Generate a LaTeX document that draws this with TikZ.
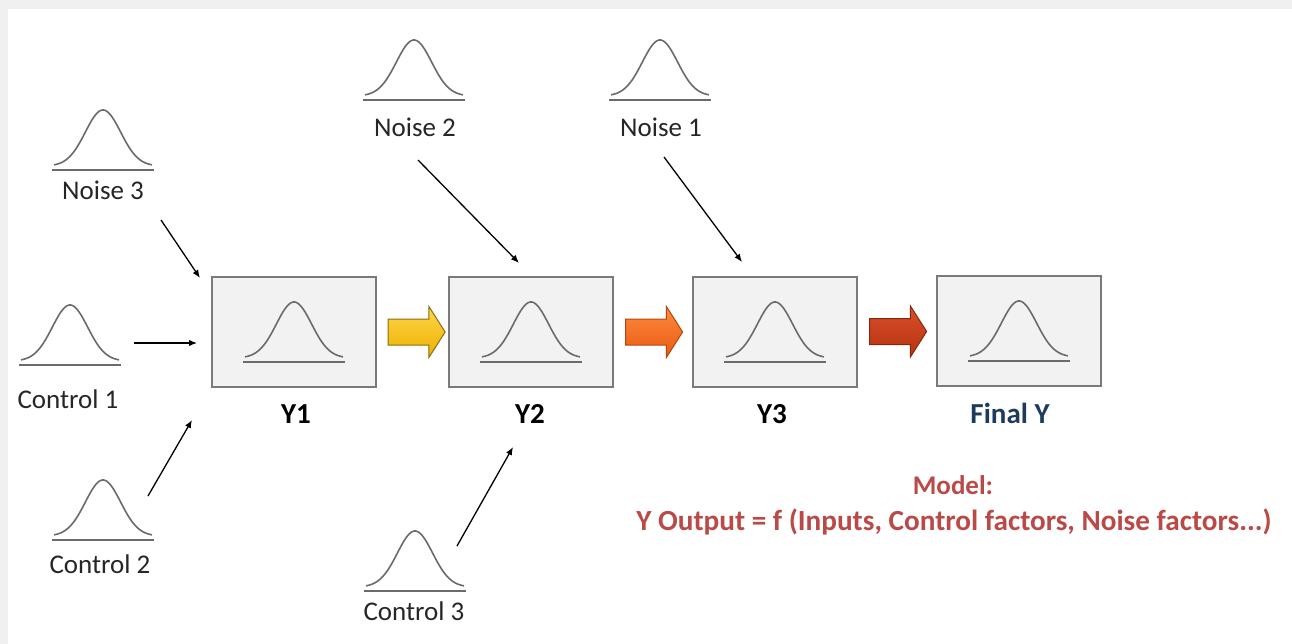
\documentclass[tikz,border=0pt]{standalone}
\usepackage{fontspec}
\setmainfont{Carlito}
\usetikzlibrary{shapes.arrows,calc,arrows.meta}
\definecolor{pagegray}{HTML}{F0F0F0}
\definecolor{boxfill}{HTML}{F2F2F2}
\definecolor{boxline}{HTML}{7A7A7A}
\definecolor{curvegray}{HTML}{6B6B6B}
\definecolor{labeltext}{HTML}{262626}
\definecolor{finalblue}{HTML}{1F3B5C}
\definecolor{modelred}{HTML}{B94A48}
\definecolor{goldtop}{HTML}{FFD54A}
\definecolor{goldbot}{HTML}{EDB200}
\definecolor{goldedge}{HTML}{8A6D12}
\definecolor{orangetop}{HTML}{FF8A3D}
\definecolor{orangebot}{HTML}{E85A12}
\definecolor{orangeedge}{HTML}{B4470F}
\definecolor{redtop}{HTML}{D9502A}
\definecolor{redbot}{HTML}{B8320F}
\definecolor{rededge}{HTML}{86280F}
\begin{document}
\begin{tikzpicture}[x=1pt,y=-1pt,
  stagebox/.style={draw=boxline, fill=boxfill, line width=1.5pt,
    minimum width=164pt, minimum height=110pt, inner sep=0pt},
  factor/.style={anchor=base, text=labeltext, inner sep=0pt,
    font=\fontsize{27}{32}\selectfont},
  stagelabel/.style={anchor=base, text=black, inner sep=0pt,
    font=\fontsize{29}{34}\selectfont\bfseries},
  feed/.style={draw=black, line width=1.3pt, -{Latex[length=8pt,width=6.5pt]}},
  flow/.style={single arrow, inner xsep=0pt, inner ysep=12.5pt,
    minimum height=57pt, single arrow head extend=12.5pt,
    single arrow tip angle=115, line width=1pt},
  bell/.pic={
    \draw[curvegray, line width=1.6pt, line join=round]
      plot[domain=-49:49, samples=70, smooth] (\x, {-4-56*exp(-(\x)*(\x)/620)});
    \draw[curvegray, line width=2.4pt] (-51,0) -- (51,0);
  }]
\useasboundingbox (0,0) rectangle (1292,644);
\fill[pagegray] (0,0) rectangle (1292,644);
\fill[white] (8,9) rectangle (1292,644);

% process stages
\node[stagebox] (y1) at (294,332) {};
\node[stagebox] (y2) at (531,332) {};
\node[stagebox] (y3) at (775,332) {};
\node[stagebox] (yf) at (1019,331) {};
\foreach \s in {y1,y2,y3,yf}
  \pic at ($(\s.center)+(0,30)$) {bell};

\node[stagelabel] (l1) at (296,423) {Y1};
\node[stagelabel] (l2) at (530,423) {Y2};
\node[stagelabel] (l3) at (772,423) {Y3};
\node[stagelabel, text=finalblue] (lf) at (1010,423) {Final Y};

% block arrows between stages
\node[flow, draw=goldedge, top color=goldtop, bottom color=goldbot]
  (a12) at ($(y1.east)!0.5!(y2.west)$) {};
\node[flow, draw=orangeedge, top color=orangetop, bottom color=orangebot]
  (a23) at ($(y2.east)!0.5!(y3.west)+(-3,0)$) {};
\node[flow, draw=rededge, top color=redtop, bottom color=redbot]
  (a3f) at ($(y3.east)!0.5!(yf.west)+(-3,0)$) {};

% input factor distributions
\pic at (103,170) {bell};
\pic at (70,365) {bell};
\pic at (103,540) {bell};
\pic at (414,100) {bell};
\pic at (660,100) {bell};
\pic at (415,591) {bell};

\node[factor] (n3) at (103,200) {Noise 3};
\node[factor] (c1) at (68,408) {Control 1};
\node[factor] (c2) at (100,573) {Control 2};
\node[factor] (n2) at (415,137) {Noise 2};
\node[factor] (n1) at (661,137) {Noise 1};
\node[factor] (c3) at (414,620) {Control 3};

% arrows from factors into stages
\coordinate (n3-tail) at (161,220);  \coordinate (n3-head) at (200,278);
\coordinate (c1-tail) at (134,343);  \coordinate (c1-head) at (197,343);
\coordinate (c2-tail) at (148,496);  \coordinate (c2-head) at (192,420);
\coordinate (n2-tail) at (418,160);  \coordinate (n2-head) at (519,263);
\coordinate (n1-tail) at (664,157);  \coordinate (n1-head) at (742,262);
\coordinate (c3-tail) at (457,546);  \coordinate (c3-head) at (513,447);
\foreach \f in {n3,c1,c2,n2,n1,c3}
  \draw[feed] (\f-tail) -- (\f-head);

% model statement
\node[anchor=base, inner sep=0pt, text=modelred, font=\fontsize{27}{32}\selectfont\bfseries]
  (model) at (953,494) {Model:};
\node[anchor=base, inner sep=0pt, text=modelred, font=\fontsize{29.2}{35}\selectfont\bfseries]
  (formula) at (954,530) {Y Output = f (Inputs, Control factors, Noise factors...)};
\end{tikzpicture}
\end{document}
